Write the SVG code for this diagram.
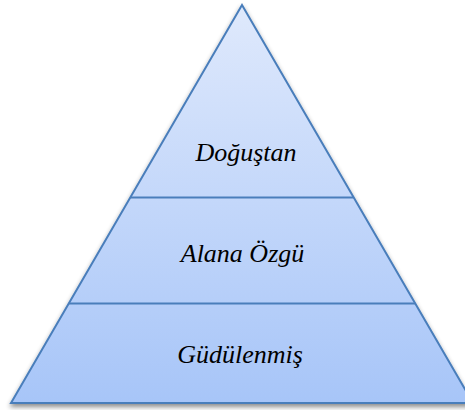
<svg xmlns="http://www.w3.org/2000/svg" width="465" height="410" viewBox="0 0 465 410">
  <defs>
    <linearGradient id="fill" x1="0" y1="0" x2="0" y2="1">
      <stop offset="0" stop-color="#dfe9fc"/>
      <stop offset="1" stop-color="#a7c5f8"/>
    </linearGradient>
    <filter id="shadow" x="-10%" y="-10%" width="120%" height="130%">
      <feGaussianBlur in="SourceAlpha" stdDeviation="2.5"/>
      <feOffset dx="0" dy="3" result="b"/>
      <feComponentTransfer><feFuncA type="linear" slope="0.45"/></feComponentTransfer>
      <feMerge><feMergeNode/><feMergeNode in="SourceGraphic"/></feMerge>
    </filter>
    <style>
      .edge { fill: none; stroke: #4a7ebb; stroke-width: 2; }
      .label { font-family: "Liberation Serif", "Times New Roman", serif; font-style: italic; font-size: 26px; fill: #000; text-anchor: middle; }
    </style>
  </defs>

  <!-- pyramid body with soft drop shadow -->
  <g id="pyramid">
    <polygon points="242,5 11,403 473,403" fill="url(#fill)" stroke="#4a7ebb" stroke-width="2" filter="url(#shadow)"/>
  </g>

  <!-- tier dividers -->
  <g id="dividers">
    <line class="edge" x1="130.5" y1="197.5" x2="353.5" y2="197.5"/>
    <line class="edge" x1="69" y1="303.5" x2="415" y2="303.5"/>
  </g>

  <g id="tier-top">
    <text class="label" x="246" y="161">Doğuştan</text>
  </g>
  <g id="tier-middle">
    <text class="label" x="242.5" y="262">Alana Özgü</text>
  </g>
  <g id="tier-bottom">
    <text class="label" x="240" y="363">Güdülenmiş</text>
  </g>
</svg>
